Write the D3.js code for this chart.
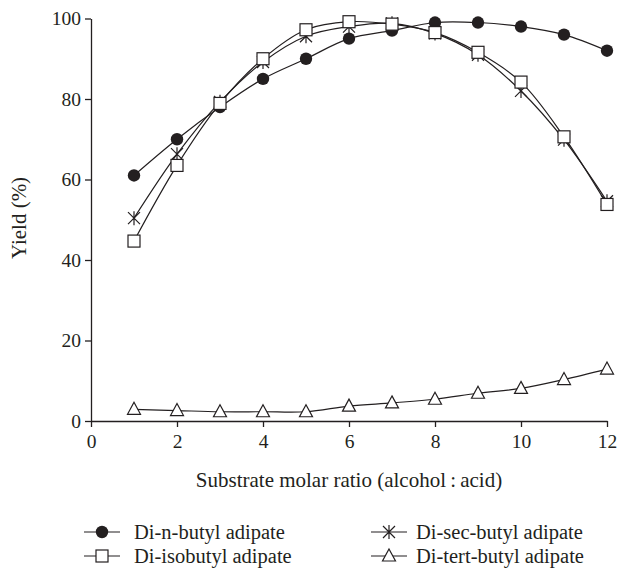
<!DOCTYPE html>
<html>
<head>
<meta charset="utf-8">
<script src="https://cdn.jsdelivr.net/npm/d3@7"></script>
<style>
  html, body { margin: 0; padding: 0; background: #fff; }
  svg text { font-family: "Liberation Serif", "DejaVu Serif", serif; fill: #231f20; }
</style>
</head>
<body>
<svg id="chart" width="619" height="568"></svg>
<script>
const ratios = [1, 2, 3, 4, 5, 6, 7, 8, 9, 10, 11, 12];
const nButyl   = [61, 70, 78, 85, 90, 95, 97, 99, 99, 98, 96, 92];
const isoButyl = [44.7, 63.5, 78.9, 90, 97.2, 99.2, 98.6, 96.5, 91.6, 84.2, 70.6, 53.8];
const secButyl = [50.4, 66.3, 79.3, 89.2, 95.6, 98, 98.8, 96.3, 91, 82, 69.9, 54.6];
const tertButyl = [2.9, 2.6, 2.3, 2.3, 2.3, 3.7, 4.5, 5.4, 6.9, 8.1, 10.3, 12.9];
const xTicks = [0, 2, 4, 6, 8, 10, 12];
const yTicks = [0, 20, 40, 60, 80, 100];
const seriesNames = ["Di-n-butyl adipate", "Di-isobutyl adipate", "Di-sec-butyl adipate", "Di-tert-butyl adipate"];
const seriesSymbols = ["circle", "square", "asterisk", "triangle"];

const series = [nButyl, isoButyl, secButyl, tertButyl].map((vals, i) => ({
  name: seriesNames[i], symbol: seriesSymbols[i],
  points: vals.map((v, j) => ({ x: ratios[j], y: v }))
}));

const ink = "#231f20";
const svg = d3.select("#chart");
const x = d3.scaleLinear().domain([0, 12]).range([91, 607]);
const y = d3.scaleLinear().domain([0, 100]).range([421, 18.5]);

// axes
const gx = svg.append("g").attr("transform", `translate(0,${y(0)})`)
  .call(d3.axisBottom(x).tickValues(xTicks).tickSizeInner(6).tickSizeOuter(0).tickPadding(7));
const gy = svg.append("g").attr("transform", `translate(${x(0)},0)`)
  .call(d3.axisLeft(y).tickValues(yTicks).tickSizeInner(6).tickSizeOuter(0).tickPadding(4));
[gx, gy].forEach(g => {
  g.selectAll("path, line").attr("stroke", ink).attr("stroke-width", 1.3);
  g.selectAll("text").attr("font-size", 19.5).attr("fill", ink)
    .style("font-family", '"Liberation Serif", serif');
});

svg.append("text").attr("x", x(6)).attr("y", 487).attr("text-anchor", "middle")
  .attr("font-size", 21).text("Substrate molar ratio (alcohol\u2009:\u2009acid)");
svg.append("text").attr("transform", `translate(26,218) rotate(-90)`)
  .attr("text-anchor", "middle").attr("font-size", 21).text("Yield (%)");

// symbol drawer
function drawSymbol(g, type, cx, cy) {
  if (type === "circle") {
    g.append("circle").attr("cx", cx).attr("cy", cy).attr("r", 6.2).attr("fill", ink);
  } else if (type === "square") {
    g.append("rect").attr("x", cx - 6).attr("y", cy - 6).attr("width", 12).attr("height", 12)
      .attr("fill", "#fff").attr("stroke", ink).attr("stroke-width", 1.2);
  } else if (type === "asterisk") {
    const r = 7;
    g.append("path").attr("d", `M${cx},${cy - r}L${cx},${cy + r}M${cx - 6},${cy - 6}L${cx + 6},${cy + 6}M${cx - 6},${cy + 6}L${cx + 6},${cy - 6}`)
      .attr("stroke", ink).attr("stroke-width", 1.2).attr("fill", "none");
  } else if (type === "triangle") {
    g.append("path").attr("d", `M${cx},${cy - 7}L${cx + 6.5},${cy + 5}L${cx - 6.5},${cy + 5}Z`)
      .attr("fill", "#fff").attr("stroke", ink).attr("stroke-width", 1.2);
  }
}

const line = d3.line().x(d => x(d.x)).y(d => y(d.y)).curve(d3.curveCatmullRom.alpha(0.5));

// draw lines first, then markers
const drawOrder = [0, 2, 1, 3];
drawOrder.forEach(i => {
  svg.append("path").datum(series[i].points).attr("d", line)
    .attr("fill", "none").attr("stroke", ink).attr("stroke-width", 1.2);
});
drawOrder.forEach(i => {
  const g = svg.append("g");
  series[i].points.forEach(p => drawSymbol(g, series[i].symbol, x(p.x), y(p.y)));
});

// legend
const legendPos = [
  { lx: 84, ty: 532 }, { lx: 84, ty: 556 }, { lx: 371, ty: 532 }, { lx: 371, ty: 556 }
];
series.forEach((s, i) => {
  const p = legendPos[i];
  const g = svg.append("g");
  g.append("line").attr("x1", p.lx).attr("x2", p.lx + 36).attr("y1", p.ty).attr("y2", p.ty)
    .attr("stroke", ink).attr("stroke-width", 1.2);
  drawSymbol(g, s.symbol, p.lx + 18, p.ty);
  g.append("text").attr("x", p.lx + (i < 2 ? 50 : 45)).attr("y", p.ty).attr("dy", "0.33em")
    .attr("font-size", 20.5).text(s.name);
});
</script>
</body>
</html>
